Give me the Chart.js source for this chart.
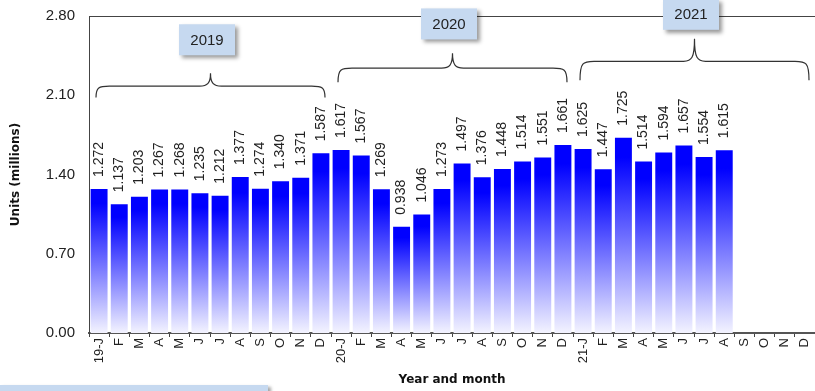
<!DOCTYPE html>
<html>
<head>
<meta charset="utf-8">
<script src="https://cdn.jsdelivr.net/npm/chart.js@4"></script>
<style>
  body { margin: 0; background: #fff; }
  #wrap { width: 815px; height: 391px; position: relative; }
</style>
</head>
<body>
<div id="wrap"><canvas id="units-chart" width="815" height="391"></canvas></div>
<script>
// month labels, one per bar
const categories = [
  '19-J', 'F', 'M', 'A', 'M', 'J', 'J', 'A', 'S', 'O', 'N', 'D',
  '20-J', 'F', 'M', 'A', 'M', 'J', 'J', 'A', 'S', 'O', 'N', 'D',
  '21-J', 'F', 'M', 'A', 'M', 'J', 'J', 'A', 'S', 'O', 'N', 'D'
];

// units sold, millions
const units2019 = [1.272, 1.137, 1.203, 1.267, 1.268, 1.235, 1.212, 1.377, 1.274, 1.340, 1.371, 1.587];
const units2020 = [1.617, 1.567, 1.269, 0.938, 1.046, 1.273, 1.497, 1.376, 1.448, 1.514, 1.551, 1.661];
const units2021 = [1.625, 1.447, 1.725, 1.514, 1.594, 1.657, 1.554, 1.615, null, null, null, null];

const yTicks = [0, 0.7, 1.4, 2.1, 2.8];
const years = ['2019', '2020', '2021'];

// brace + box placement for each year, in y-axis units
const yearMarks = [
  { first: 0,  last: 11, tip: 2.295, mid: 2.18, end: 2.08,  box: 2.59 },
  { first: 12, last: 23, tip: 2.47,  mid: 2.34, end: 2.215, box: 2.73 },
  { first: 24, last: 35, tip: 2.60,  mid: 2.40, end: 2.233, box: 2.815 }
];

const values = [...units2019, ...units2020, ...units2021];

const barFill = (c) => {
  const chart = c.chart;
  if (!chart.chartArea || c.raw == null) return '#0000ff';
  const y = chart.scales.y;
  const top = y.getPixelForValue(c.raw);
  const bot = y.getPixelForValue(0);
  const g = chart.ctx.createLinearGradient(0, top, 0, bot);
  g.addColorStop(0, '#0000ff');
  g.addColorStop(0.1, '#0000ff');
  g.addColorStop(1, '#f3f3ff');
  return g;
};

const decor = {
  id: 'decor',
  afterDatasetsDraw(chart) {
    const ctx = chart.ctx;
    const { left, right, top, bottom } = chart.chartArea;
    const x = chart.scales.x, y = chart.scales.y;

    // top frame line
    ctx.save();
    ctx.strokeStyle = '#444';
    ctx.lineWidth = 1;
    ctx.beginPath();
    ctx.moveTo(left, top + 0.5);
    ctx.lineTo(right, top + 0.5);
    ctx.stroke();

    // value labels, rotated
    ctx.fillStyle = '#222';
    ctx.font = '14px "Liberation Sans", Arial, sans-serif';
    ctx.textAlign = 'left';
    ctx.textBaseline = 'middle';
    const meta = chart.getDatasetMeta(0);
    meta.data.forEach((bar, i) => {
      if (values[i] == null) return;
      ctx.save();
      ctx.translate(bar.x, bar.y - 12);
      ctx.rotate(-Math.PI / 2);
      ctx.fillText(values[i].toFixed(3), 0, 0);
      ctx.restore();
    });

    // year braces
    const step = x.getPixelForValue(1) - x.getPixelForValue(0);
    ctx.strokeStyle = '#333';
    ctx.lineWidth = 1.2;
    yearMarks.forEach((m) => {
      const x0 = x.getPixelForValue(m.first) - step / 2 + 7;
      const x1 = x.getPixelForValue(m.last) + step / 2 - 6;
      const xc = (x0 + x1) / 2;
      const yt = y.getPixelForValue(m.tip);
      const ym = y.getPixelForValue(m.mid);
      const ye = y.getPixelForValue(m.end);
      const r = Math.min(14, ye - ym + 2);
      const t = 11;
      ctx.beginPath();
      ctx.moveTo(x0, ye);
      ctx.bezierCurveTo(x0, ym + 1, x0 + 3, ym, x0 + r, ym);
      ctx.lineTo(xc - t, ym);
      ctx.bezierCurveTo(xc - 3, ym, xc, ym - 3, xc, yt);
      ctx.bezierCurveTo(xc, ym - 3, xc + 3, ym, xc + t, ym);
      ctx.lineTo(x1 - r, ym);
      ctx.bezierCurveTo(x1 - 3, ym, x1, ym + 1, x1, ye);
      ctx.stroke();
    });

    // year boxes
    ctx.font = '15px "Liberation Sans", Arial, sans-serif';
    ctx.textAlign = 'center';
    yearMarks.forEach((m, i) => {
      const xc = (x.getPixelForValue(m.first) + x.getPixelForValue(m.last)) / 2 - 3;
      const yc = y.getPixelForValue(m.box);
      const w = 56, h = 31;
      ctx.save();
      ctx.shadowColor = 'rgba(0,0,0,0.4)';
      ctx.shadowBlur = 4;
      ctx.shadowOffsetX = 3;
      ctx.shadowOffsetY = 3;
      ctx.fillStyle = '#c6d9f0';
      ctx.fillRect(xc - w / 2, yc - h / 2, w, h);
      ctx.restore();
      ctx.fillStyle = '#222';
      ctx.fillText(years[i], xc, yc + 1);
    });

    // axis titles
    ctx.font = 'bold 12px "DejaVu Sans", sans-serif';
    ctx.fillStyle = '#111';
    ctx.fillText('Year and month', (left + right) / 2, 380);
    ctx.save();
    ctx.translate(16, (top + bottom) / 2);
    ctx.rotate(-Math.PI / 2);
    ctx.fillText('Units (millions)', 0, 0);
    ctx.restore();

    // note box at the bottom left, cut off by the frame
    ctx.save();
    ctx.shadowColor = 'rgba(0,0,0,0.35)';
    ctx.shadowBlur = 3;
    ctx.shadowOffsetX = 3;
    ctx.shadowOffsetY = 2;
    ctx.fillStyle = '#c6d9f0';
    ctx.fillRect(0, 385, 268, 12);
    ctx.restore();
    ctx.restore();
  }
};

new Chart(document.getElementById('units-chart'), {
  type: 'bar',
  data: {
    labels: categories,
    datasets: [{
      label: 'Units',
      data: values,
      backgroundColor: barFill,
      barPercentage: 0.84,
      categoryPercentage: 1
    }]
  },
  options: {
    responsive: false,
    animation: false,
    layout: { padding: { top: 16, right: 0, left: 0, bottom: 0 } },
    plugins: { legend: { display: false }, tooltip: { enabled: false } },
    scales: {
      x: {
        grid: { display: true, drawOnChartArea: false, drawTicks: true, tickLength: 4, color: '#444', offset: true },
        border: { color: '#555', width: 2 },
        ticks: {
          autoSkip: false, maxRotation: 90, minRotation: 90, padding: 1,
          color: '#222', font: { family: '"Liberation Sans", Arial, sans-serif', size: 13 }
        },
        afterFit: (s) => { s.height = 58; s.paddingLeft = 0; s.paddingRight = 0; }
      },
      y: {
        min: 0, max: 2.8,
        grid: { display: false, drawTicks: false },
        border: { color: '#444', width: 1 },
        afterBuildTicks: (s) => { s.ticks = yTicks.map(v => ({ value: v })); },
        ticks: {
          padding: 14, color: '#222',
          font: { family: '"Liberation Sans", Arial, sans-serif', size: 15 },
          callback: (v) => v.toFixed(2)
        },
        afterFit: (s) => { s.width = 89; s.paddingTop = 0; s.paddingBottom = 0; }
      }
    }
  },
  plugins: [decor]
});
</script>
</body>
</html>
